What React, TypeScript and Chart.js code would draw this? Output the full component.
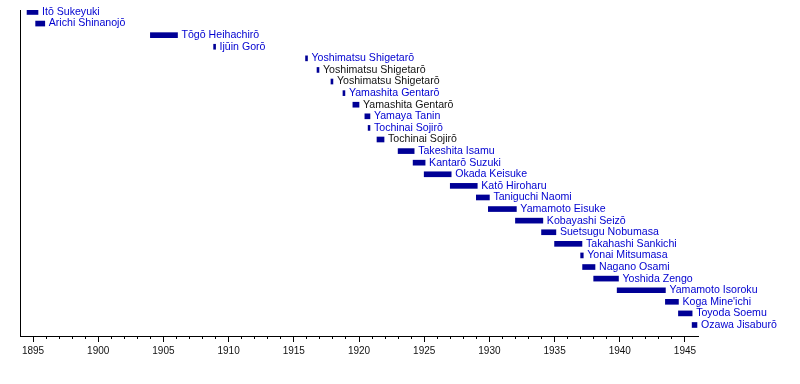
import React, { useEffect, useRef } from "react";
import { Chart, registerables } from "chart.js";

Chart.register(...registerables);

const names = [
  "Itō Sukeyuki",
  "Arichi Shinanojō",
  "Tōgō Heihachirō",
  "Ijūin Gorō",
  "Yoshimatsu Shigetarō",
  "Yoshimatsu Shigetarō",
  "Yoshimatsu Shigetarō",
  "Yamashita Gentarō",
  "Yamashita Gentarō",
  "Yamaya Tanin",
  "Tochinai Sojirō",
  "Tochinai Sojirō",
  "Takeshita Isamu",
  "Kantarō Suzuki",
  "Okada Keisuke",
  "Katō Hiroharu",
  "Taniguchi Naomi",
  "Yamamoto Eisuke",
  "Kobayashi Seizō",
  "Suetsugu Nobumasa",
  "Takahashi Sankichi",
  "Yonai Mitsumasa",
  "Nagano Osami",
  "Yoshida Zengo",
  "Yamamoto Isoroku",
  "Koga Mine'ichi",
  "Toyoda Soemu",
  "Ozawa Jisaburō",
];

const starts = [
  1894.54, 1895.2, 1904.0, 1908.85, 1915.9, 1916.78, 1917.85, 1918.77, 1919.53,
  1920.45, 1920.7, 1921.38, 1923.0, 1924.15, 1925.0, 1927.0, 1929.0, 1929.92,
  1932.0, 1934.0, 1935.0, 1937.0, 1937.15, 1938.0, 1939.8, 1943.5, 1944.5, 1945.55,
];

const ends = [
  1895.38, 1895.9, 1906.08, 1909.0, 1916.05, 1916.93, 1918.0, 1918.92, 1920.0,
  1920.84, 1920.84, 1921.92, 1924.23, 1925.07, 1927.07, 1929.07, 1930.0, 1932.07,
  1934.1, 1935.1, 1937.1, 1937.2, 1938.1, 1939.9, 1943.5, 1944.5, 1945.55, 1945.92,
];

// "b" = linked (blue) label, "k" = plain (black) label
const labelKinds = [
  "b", "b", "b", "b", "b", "k", "k", "b", "k", "b", "b", "k", "b", "b",
  "b", "b", "b", "b", "b", "b", "b", "b", "b", "b", "b", "b", "b", "b",
];

const majorTicks = [1895, 1900, 1905, 1910, 1915, 1920, 1925, 1930, 1935, 1940, 1945];
const minorTicks = Array.from({ length: 51 }, (_, i) => 1895 + i);

const BAR_COLOR = "#000096";
const BLUE_TEXT = "#0000d0";
const BLACK_TEXT = "#111111";
const FONT = "Liberation Sans, Arial, sans-serif";

const labelPlugin = {
  id: "barLabels",
  afterDatasetsDraw(chart: any) {
    const meta = chart.getDatasetMeta(0);
    const ctx = chart.ctx;
    ctx.save();
    ctx.font = `10.6px ${FONT}`;
    ctx.textBaseline = "middle";
    ctx.textAlign = "left";
    meta.data.forEach((el: any, i: number) => {
      const right = Math.max(el.x, el.base);
      ctx.fillStyle = labelKinds[i] === "k" ? BLACK_TEXT : BLUE_TEXT;
      ctx.fillText(names[i], right + 4, el.y);
    });
    ctx.restore();
  },
};

export default function App() {
  const ref = useRef<HTMLCanvasElement | null>(null);

  useEffect(() => {
    if (!ref.current) return;
    const data = names.map((_, i) => ({ x: [starts[i], ends[i]], y: i }));
    const chart = new Chart(ref.current, {
      type: "bar",
      data: {
        datasets: [
          {
            data: data as any,
            backgroundColor: BAR_COLOR,
            borderWidth: 0,
            barThickness: 5,
            xAxisID: "x",
            yAxisID: "y",
          },
        ],
      },
      options: {
        indexAxis: "y",
        animation: false,
        responsive: false,
        maintainAspectRatio: false,
        layout: { padding: { left: 20, right: 102, top: 10, bottom: 0 } },
        plugins: {
          legend: { display: false },
          tooltip: { enabled: false },
        },
        scales: {
          y: {
            type: "linear",
            reverse: true,
            offset: false,
            min: -0.17,
            max: 27.95,
            position: "left",
            ticks: { display: false },
            grid: { display: true, offset: false, drawOnChartArea: false, drawTicks: false },
            border: { display: true, color: "#000", width: 1 },
            afterFit(scale: any) {
              scale.width = 0;
            },
          },
          x: {
            type: "linear",
            position: "bottom",
            weight: 1,
            min: 1894,
            max: 1946,
            afterBuildTicks(scale: any) {
              scale.ticks = majorTicks.map((v) => ({ value: v }));
            },
            ticks: {
              color: "#111",
              font: { family: FONT, size: 10 },
              padding: 3,
              maxRotation: 0,
              autoSkip: false,
              callback: (v: any) => String(v),
            },
            grid: {
              drawOnChartArea: false,
              drawTicks: true,
              tickLength: 6,
              tickColor: "#000",
              tickWidth: 1,
            },
            border: { display: true, color: "#000", width: 1 },
            afterFit(scale: any) {
              scale.height = 48;
            },
          },
          x2: {
            type: "linear",
            position: "bottom",
            weight: 0,
            min: 1894,
            max: 1946,
            afterBuildTicks(scale: any) {
              scale.ticks = minorTicks.map((v) => ({ value: v }));
            },
            ticks: { display: false, autoSkip: false },
            grid: {
              drawOnChartArea: false,
              drawTicks: true,
              tickLength: 3,
              tickColor: "#000",
              tickWidth: 1,
            },
            border: { display: false },
            afterFit(scale: any) {
              scale.height = 0;
            },
          },
        },
      } as any,
      plugins: [labelPlugin],
    });
    return () => chart.destroy();
  }, []);

  return (
    <div style={{ position: "fixed", left: 0, top: 0, width: 800, height: 384, background: "#fff" }}>
      <canvas ref={ref} width={800} height={384} style={{ width: 800, height: 384, display: "block" }} />
    </div>
  );
}
